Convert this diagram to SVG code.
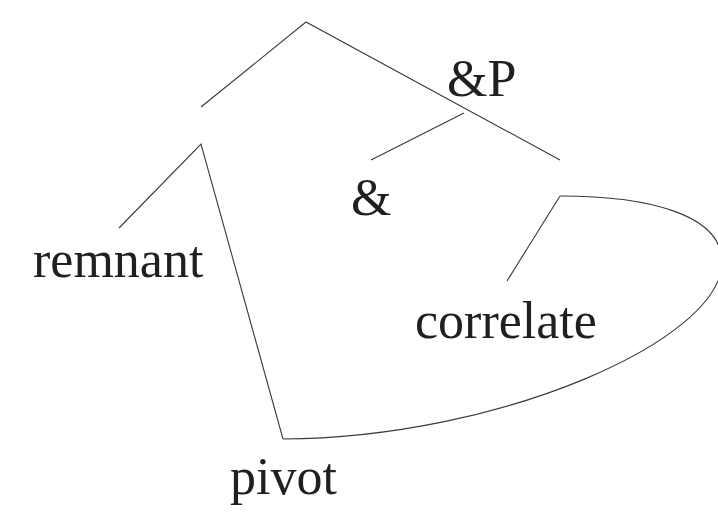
<svg xmlns="http://www.w3.org/2000/svg" width="718" height="513" viewBox="0 0 718 513">
<style>
.l{fill:none;stroke:#3a3a3a;stroke-width:1.1}
.t{font-family:"Liberation Serif","Times New Roman",serif;font-size:52px;fill:#231f20}
</style>
<rect width="718" height="513" fill="#fff"/>
<g id="connectors">
<path class="l" d="M201,107 L306,22 L560,160"/>
<path class="l" d="M464,113 L371,160"/>
<path class="l" d="M119,228 L201,144 L283,439"/>
<path class="l" d="M507,281 L560,196"/>
<path class="l" d="M283,439 C500,438 722,340 722,262 C722,215 650,196 560,196"/>
</g>
<g id="node-andP"><text class="t" x="447" y="96">&amp;P</text></g>
<g id="node-and"><text class="t" x="351" y="215">&amp;</text></g>
<g id="node-remnant"><text class="t" x="33" y="277">remnant</text></g>
<g id="node-correlate"><text class="t" x="415" y="338">correlate</text></g>
<g id="node-pivot"><text class="t" x="230" y="494">pivot</text></g>
</svg>
